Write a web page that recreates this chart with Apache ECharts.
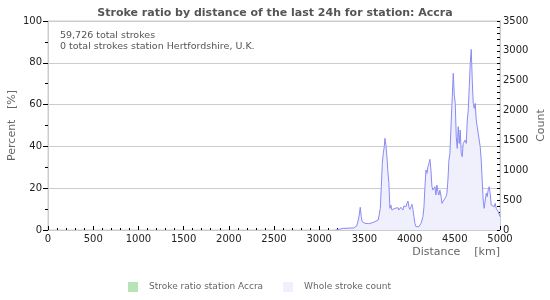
<!DOCTYPE html>
<html>
<head>
<meta charset="utf-8">
<script src="https://cdn.jsdelivr.net/npm/echarts@6/dist/echarts.min.js"></script>
<style>html,body{margin:0;padding:0;background:#fff}#c{width:550px;height:300px}</style>
</head>
<body>
<div id="c"></div>
<script>
const titleText = 'Stroke ratio by distance of the last 24h for station: Accra';
const infoLines = ['59,726 total strokes', '0 total strokes station Hertfordshire, U.K.'];
const seriesNames = ['Stroke ratio station Accra', 'Whole stroke count'];
const xTicks = [0, 500, 1000, 1500, 2000, 2500, 3000, 3500, 4000, 4500, 5000];
const percentTicks = [0, 20, 40, 60, 80, 100];
const countTicks = [0, 500, 1000, 1500, 2000, 2500, 3000, 3500];

const distanceKm = [3180,3200,3230,3266,3285,3300,3320,3340,3360,3380,3395,3415,3432,3443,3454,3465,3476,3490,3506,3525,3543,3560,3580,3600,3617,3635,3653,3665,3676,3687,3698,3709,3720,3727,3738,3749,3760,3771,3782,3793,3804,3815,3826,3838,3849,3860,3871,3882,3893,3904,3915,3926,3937,3948,3960,3971,3982,3993,4004,4015,4026,4037,4048,4059,4070,4081,4092,4103,4114,4126,4137,4148,4159,4170,4181,4192,4203,4214,4225,4236,4247,4258,4269,4280,4291,4302,4313,4324,4335,4346,4358,4369,4380,4391,4402,4413,4424,4435,4446,4461,4472,4483,4494,4505,4516,4527,4538,4549,4560,4571,4582,4593,4604,4615,4627,4638,4649,4660,4671,4682,4693,4704,4715,4726,4737,4748,4759,4770,4781,4792,4803,4814,4825,4837,4848,4858,4869,4880,4891,4903,4914,4925,4936,4947,4958,4969,4980,4991,5000];
const strokeCount = [0,10,15,28,45,28,22,33,28,33,45,67,167,251,380,223,140,112,112,106,106,100,117,123,140,150,167,195,363,725,1116,1283,1395,1535,1423,1228,977,781,363,418,335,363,307,363,390,335,374,335,324,380,363,335,402,380,390,446,485,380,346,390,430,346,223,112,56,28,39,56,84,112,167,223,390,725,1004,949,1060,1116,1183,1004,725,670,642,725,586,753,642,586,670,586,446,474,502,513,558,614,837,1170,1283,1841,2232,2622,2260,2120,1562,1367,1730,1450,1674,1283,1228,1450,1450,1507,1450,1841,2009,2400,2790,3024,2511,2120,2037,2120,1841,1730,1618,1507,1395,1172,837,502,363,502,614,558,670,725,614,418,390,418,390,446,363,335,307,280,223];
const ratioPercent = distanceKm.map(() => 0); // 0 strokes at station -> ratio 0 everywhere

const FONT = 'DejaVu Sans';
const plain = v => String(v);
const chart = echarts.init(document.getElementById('c'), null, {renderer: 'canvas'});
chart.setOption({
  animation: false,
  backgroundColor: '#fff',
  textStyle: {fontFamily: FONT},
  title: {
    text: titleText, left: 'center', top: 3,
    textStyle: {fontFamily: FONT, fontSize: 11, fontWeight: 'bold', color: '#555'}
  },
  grid: {left: 48, right: 50, top: 21, bottom: 70, show: true, borderColor: '#ccc', borderWidth: 1, containLabel: false, outerBoundsMode: 'none'},
  legend: {
    top: 282, left: 128, padding: 0, itemWidth: 10, itemHeight: 10, itemGap: 20, icon: 'rect',
    textStyle: {fontFamily: FONT, fontSize: 9, color: '#666', padding: [0, 0, 0, 6]},
    data: seriesNames
  },
  graphic: [
    {type: 'text', left: 60, top: 31, style: {text: infoLines[0], font: '9.5px "DejaVu Sans"', fill: '#555'}},
    {type: 'text', left: 60, top: 42, style: {text: infoLines[1], font: '9.5px "DejaVu Sans"', fill: '#555'}},
    {type: 'text', right: 50, top: 247, style: {text: 'Distance    [km]', font: '11px "DejaVu Sans"', fill: '#666', textAlign: 'right'}}
  ],
  xAxis: {
    type: 'value', min: xTicks[0], max: xTicks[xTicks.length - 1], interval: 500,
    axisLine: {show: true, lineStyle: {color: '#ccc'}},
    axisTick: {show: true, inside: true, length: 4, lineStyle: {color: '#000'}},
    minorTick: {show: true, splitNumber: 5, length: 2, lineStyle: {color: '#000'}},
    splitLine: {show: false},
    axisLabel: {fontFamily: FONT, fontSize: 10, color: '#222', margin: 4, formatter: plain}
  },
  yAxis: [
    {
      type: 'value', min: percentTicks[0], max: percentTicks[percentTicks.length - 1], interval: 20,
      position: 'left',
      name: 'Percent   [%]', nameLocation: 'middle', nameGap: 30, nameMoveOverlap: false,
      nameTextStyle: {fontFamily: FONT, fontSize: 11, color: '#666'},
      axisLine: {show: true, lineStyle: {color: '#ccc'}},
      axisTick: {show: true, inside: false, length: 5, lineStyle: {color: '#000'}},
      minorTick: {show: true, splitNumber: 2, length: 3, lineStyle: {color: '#000'}},
      splitLine: {show: true, lineStyle: {color: '#ccc'}},
      axisLabel: {fontFamily: FONT, fontSize: 10, color: '#222', margin: 6, formatter: plain}
    },
    {
      type: 'value', min: countTicks[0], max: countTicks[countTicks.length - 1], interval: 500,
      position: 'right',
      name: 'Count', nameLocation: 'middle', nameGap: 36, nameMoveOverlap: false,
      nameTextStyle: {fontFamily: FONT, fontSize: 11, color: '#666'},
      axisLine: {show: true, lineStyle: {color: '#ccc'}},
      axisTick: {show: true, inside: true, length: 3, lineStyle: {color: '#000'}},
      minorTick: {show: true, splitNumber: 5, length: 3, lineStyle: {color: '#000'}},
      splitLine: {show: false},
      axisLabel: {fontFamily: FONT, fontSize: 10, color: '#222', margin: 3, formatter: plain}
    }
  ],
  series: [
    {
      name: seriesNames[0], type: 'line', yAxisIndex: 0, showSymbol: false,
      data: distanceKm.map((d, i) => [d, ratioPercent[i]]),
      itemStyle: {color: '#b7e3b7'},
      lineStyle: {width: 0},
      areaStyle: {color: '#b7e3b7'}
    },
    {
      name: seriesNames[1], type: 'line', yAxisIndex: 1, showSymbol: false,
      data: distanceKm.map((d, i) => [d, strokeCount[i]]),
      itemStyle: {color: '#f0f0fd'},
      lineStyle: {color: '#8a8af5', width: 1},
      areaStyle: {color: '#f0f0fd', opacity: 1}
    }
  ]
});
</script>
</body>
</html>
